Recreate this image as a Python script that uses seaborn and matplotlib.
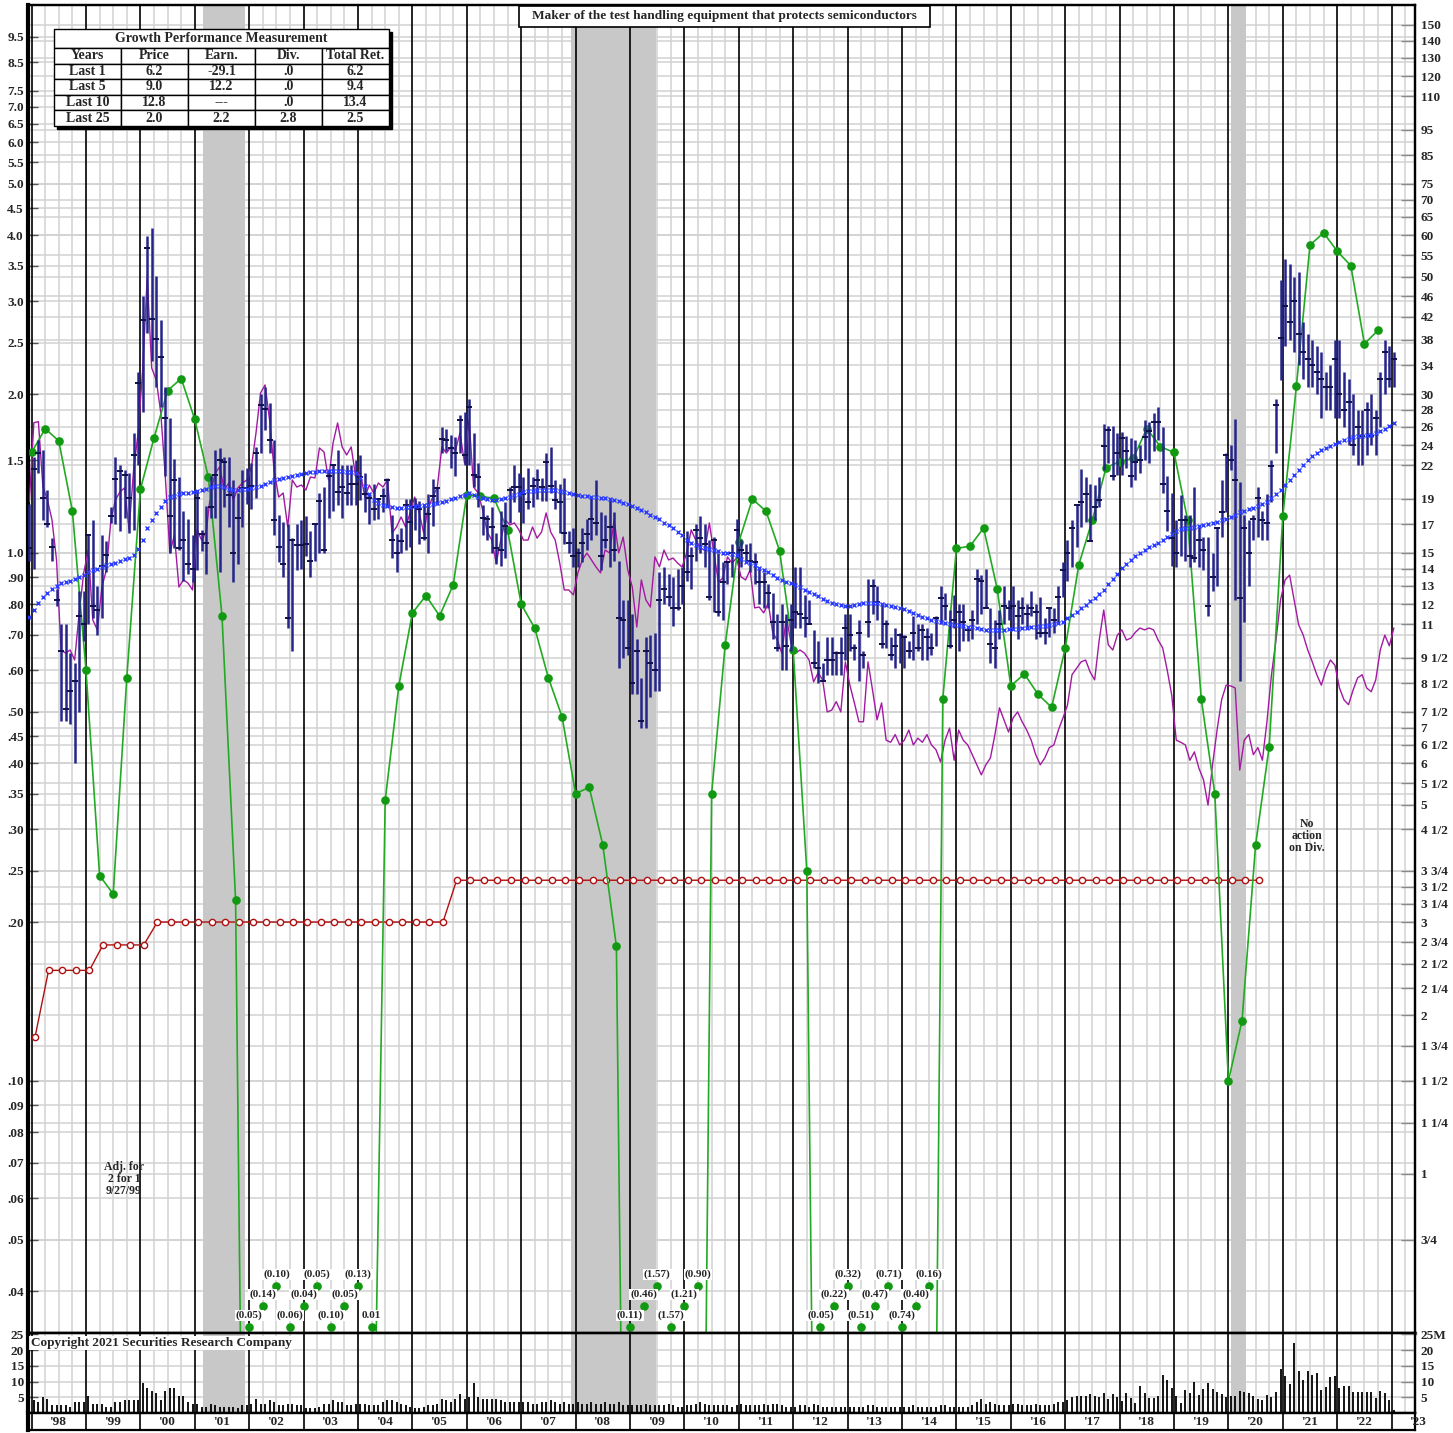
import matplotlib

matplotlib.use("Agg")
import matplotlib.pyplot as plt
import matplotlib.transforms as mtransforms
import numpy as np
import pandas as pd
import seaborn as sns
from matplotlib.patches import Rectangle
from matplotlib.ticker import NullLocator

# Monthly price bars in $ (right-hand scale), Dec 1997 .. Jan 2023
PRICE_HIGH = [
    18.6,
    22.8, 24.6, 23.5, 19.7, 16.0, 12.8, 11.0, 11.0, 9.7, 9.3, 12.7, 12.7,
    16.3, 17.3, 13.0, 16.2, 15.8, 18.3, 22.8, 22.0, 21.5, 21.3, 25.3, 33.0,
    46.1, 59.7, 61.8, 50.3, 41.4, 31.0, 27.0, 22.6, 20.9, 18.0, 17.4, 16.2,
    19.7, 16.6, 18.4, 21.0, 23.5, 23.7, 22.8, 22.8, 20.6, 19.5, 21.5, 21.7,
    22.2, 23.8, 30.0, 31.0, 28.9, 24.6, 17.7, 17.2, 17.0, 16.0, 17.0, 17.3,
    17.6, 16.5, 17.0, 19.5, 20.0, 21.5, 22.0, 23.5, 22.0, 22.0, 22.0, 22.5,
    23.0, 21.3, 19.5, 20.3, 19.1, 19.9, 20.8, 17.7, 16.3, 16.7, 19.0, 19.0,
    19.1, 18.8, 18.6, 19.4, 20.7, 20.0, 26.0, 25.8, 25.1, 24.9, 27.4, 27.7,
    29.4, 25.3, 22.2, 18.5, 17.7, 18.3, 16.4, 18.0, 18.7, 20.0, 22.0, 21.3,
    20.9, 21.7, 20.9, 21.6, 20.8, 23.2, 23.8, 20.6, 20.3, 20.8, 16.5, 16.7,
    15.3, 16.7, 17.4, 19.1, 20.6, 17.9, 17.7, 19.0, 17.9, 14.5, 12.2, 12.2,
    11.5, 10.3, 8.7, 10.4, 10.5, 10.6, 13.8, 14.1, 13.7, 13.5, 14.0, 14.1,
    16.5, 15.4, 17.0, 17.6, 17.0, 15.9, 16.1, 15.0, 14.4, 14.5, 15.6, 17.4,
    15.9, 15.6, 15.7, 15.0, 14.0, 13.8, 13.1, 12.6, 11.5, 12.0, 11.5, 12.0,
    14.1, 14.1, 12.5, 12.2, 10.7, 10.2, 9.3, 10.4, 10.4, 9.8, 10.4, 11.5,
    11.5, 10.1, 11.2, 9.8, 13.4, 13.4, 13.0, 12.0, 11.2, 10.4, 10.8, 10.6,
    10.5, 10.2, 11.4, 11.0, 11.0, 10.8, 10.6, 11.4, 13.0, 12.6, 11.7, 12.5,
    12.0, 12.0, 10.8, 11.7, 14.0, 13.6, 14.0, 11.8, 11.2, 11.7, 13.0, 12.2,
    13.0, 12.2, 12.4, 12.0, 12.7, 12.0, 12.4, 11.3, 11.8, 11.8, 13.0, 14.4,
    15.9, 17.3, 18.6, 21.6, 20.9, 20.3, 20.2, 20.9, 26.3, 26.1, 26.1, 25.3,
    25.4, 25.0, 24.8, 24.5, 24.0, 26.8, 26.5, 27.6, 28.4, 26.0, 21.0, 19.5,
    17.3, 19.3, 17.7, 17.7, 20.0, 16.8, 16.1, 16.1, 15.0, 16.8, 20.6, 23.2,
    24.0, 26.9, 20.4, 17.7, 17.3, 17.7, 20.0, 18.0, 19.4, 22.5, 29.4, 49.4,
    54.0, 53.0, 50.0, 51.0, 41.0, 39.0, 38.0, 37.0, 36.0, 33.0, 34.0, 38.0,
    38.0, 33.0, 32.0, 30.0, 28.0, 28.0, 29.0, 30.0, 28.0, 33.0, 38.0, 37.0,
    36.0,
]
PRICE_LOW = [
    14.5,
    14.0, 21.3, 17.3, 16.8, 14.5, 11.9, 7.2, 7.2, 7.1, 6.0, 7.5, 10.2,
    11.0, 11.3, 10.5, 11.3, 13.8, 17.1, 17.0, 16.5, 17.5, 16.4, 16.6, 22.0,
    27.7, 39.1, 34.6, 31.0, 28.4, 21.0, 15.0, 15.3, 15.2, 13.3, 13.7, 13.2,
    13.9, 15.1, 13.7, 17.5, 17.5, 13.8, 18.3, 16.8, 13.2, 14.3, 16.8, 18.6,
    18.2, 19.1, 23.2, 25.7, 23.2, 16.2, 14.4, 13.5, 10.8, 9.8, 13.9, 14.0,
    14.8, 13.5, 14.5, 15.0, 15.0, 17.5, 18.0, 18.5, 17.5, 18.5, 18.5, 18.5,
    18.9, 17.9, 17.0, 17.3, 17.4, 17.9, 18.4, 14.7, 13.8, 15.0, 15.2, 15.4,
    16.6, 15.6, 15.9, 15.0, 16.9, 18.5, 23.2, 23.4, 21.7, 21.0, 23.2, 22.0,
    22.0, 20.0, 18.3, 16.2, 15.9, 15.0, 14.3, 14.2, 14.7, 17.1, 18.7, 17.9,
    17.1, 18.2, 18.3, 19.0, 18.8, 18.8, 19.5, 18.2, 16.4, 15.6, 15.0, 14.1,
    14.1, 14.4, 15.2, 15.9, 16.2, 13.9, 15.3, 14.1, 14.5, 9.1, 9.5, 9.6,
    8.1, 8.1, 7.0, 7.0, 8.0, 8.2, 8.2, 12.0, 11.9, 10.9, 11.7, 12.0,
    13.3, 12.8, 14.5, 15.0, 14.1, 12.2, 11.6, 11.4, 11.2, 13.1, 13.5, 14.7,
    14.1, 14.4, 13.8, 13.1, 12.0, 11.8, 11.8, 10.3, 9.8, 9.0, 9.0, 9.8,
    10.8, 10.8, 10.4, 11.0, 9.1, 8.5, 8.6, 8.8, 8.8, 8.8, 8.8, 9.4,
    9.8, 9.4, 8.6, 9.1, 10.4, 11.5, 11.2, 9.9, 9.9, 9.4, 9.1, 9.3,
    9.1, 9.5, 9.4, 9.8, 9.4, 9.4, 9.6, 10.0, 11.0, 11.2, 9.9, 10.8,
    9.8, 10.2, 10.2, 10.3, 11.0, 11.5, 11.8, 9.3, 9.1, 10.3, 11.0, 11.2,
    10.8, 10.3, 11.0, 10.8, 11.4, 10.3, 10.4, 10.1, 10.4, 10.6, 11.0, 12.4,
    13.3, 14.1, 15.4, 16.8, 17.2, 15.8, 17.3, 18.3, 21.5, 22.2, 20.6, 21.1,
    21.1, 21.7, 20.0, 20.6, 21.3, 22.5, 22.2, 23.4, 24.5, 19.5, 16.5, 14.2,
    14.1, 14.8, 14.5, 14.1, 14.4, 14.1, 13.9, 11.4, 12.7, 13.0, 16.1, 17.9,
    21.5, 12.2, 8.6, 11.1, 13.0, 15.9, 16.1, 15.9, 15.9, 18.7, 23.2, 31.9,
    37.0, 38.0, 36.0, 34.0, 32.0, 31.0, 31.0, 30.0, 27.0, 28.0, 28.0, 27.0,
    27.0, 26.0, 24.0, 23.0, 22.0, 22.0, 23.0, 24.0, 23.0, 26.0, 30.0, 31.0,
    31.0,
]
PRICE_CLOSE = [
    15.3,
    21.6, 23.2, 19.1, 17.0, 15.4, 12.2, 9.8, 7.6, 8.2, 8.6, 11.4, 11.0,
    16.2, 11.9, 11.7, 14.2, 14.9, 17.6, 20.7, 21.4, 21.1, 19.1, 23.0, 31.5,
    41.4, 56.6, 41.7, 38.2, 35.3, 27.0, 17.6, 20.6, 15.3, 15.9, 14.3, 14.0,
    19.1, 16.3, 15.7, 18.3, 21.1, 22.5, 22.3, 19.3, 15.0, 17.5, 19.9, 19.9,
    20.1, 23.2, 28.6, 28.1, 24.6, 17.3, 15.4, 14.3, 11.3, 15.9, 15.5, 15.5,
    15.6, 14.5, 17.0, 18.8, 15.2, 21.0, 22.0, 19.6, 20.0, 19.5, 20.3, 20.3,
    20.9, 19.4, 19.1, 18.2, 19.0, 19.2, 20.6, 15.9, 15.0, 15.8, 18.5, 17.2,
    18.3, 18.2, 16.0, 17.8, 19.2, 19.9, 24.7, 24.6, 23.7, 23.2, 26.8, 23.0,
    28.3, 21.1, 20.9, 17.5, 17.4, 16.8, 15.3, 15.2, 16.9, 19.7, 20.0, 20.0,
    19.4, 18.7, 20.1, 20.6, 20.0, 22.3, 20.1, 18.9, 18.7, 16.4, 15.7, 14.8,
    15.0, 15.7, 16.3, 17.4, 17.1, 14.8, 15.9, 16.8, 15.2, 11.3, 11.2, 9.9,
    8.5, 9.8, 7.2, 9.8, 9.3, 9.0, 12.2, 12.8, 12.4, 11.8, 11.8, 13.0,
    13.8, 14.8, 16.6, 16.0, 15.6, 12.4, 15.9, 11.6, 13.2, 14.4, 15.0, 16.6,
    15.2, 15.0, 14.5, 14.4, 13.2, 13.2, 12.6, 11.1, 9.9, 11.1, 10.0, 11.2,
    11.6, 11.5, 11.3, 11.0, 9.3, 9.1, 8.6, 9.4, 9.4, 9.7, 9.7, 10.8,
    10.5, 9.9, 10.6, 9.6, 11.1, 13.0, 12.1, 10.1, 11.0, 9.6, 10.0, 10.5,
    10.4, 9.8, 10.6, 9.9, 10.7, 10.4, 9.9, 11.3, 12.3, 11.9, 10.0, 11.2,
    11.6, 11.1, 10.7, 11.2, 13.4, 13.3, 11.8, 10.1, 9.9, 11.0, 11.9, 11.8,
    11.9, 11.4, 11.8, 11.5, 11.8, 11.6, 10.6, 10.6, 11.8, 11.2, 12.4, 13.9,
    15.0, 16.7, 18.5, 18.7, 19.4, 15.8, 18.3, 18.9, 23.9, 25.7, 21.0, 23.2,
    24.8, 23.4, 21.0, 22.3, 22.5, 24.9, 25.5, 26.5, 26.5, 20.3, 18.0, 16.0,
    15.0, 17.3, 17.3, 14.8, 14.7, 15.9, 15.2, 11.9, 13.5, 16.7, 17.9, 23.0,
    22.5, 20.6, 12.3, 16.7, 15.0, 17.4, 19.1, 17.3, 17.1, 21.9, 28.6, 38.3,
    44.0, 41.0, 45.0, 39.0, 36.0, 35.0, 34.0, 33.0, 32.0, 31.0, 31.0, 35.0,
    30.0, 28.0, 29.0, 24.0, 26.0, 25.0, 28.0, 25.0, 27.0, 32.0, 36.0, 32.0,
    35.0,
]
# moving average of price, $ (blue x marks)
MOVING_AVG = [
    11.33,
    11.70, 12.08, 12.36, 12.61, 12.80, 12.99, 13.15, 13.24, 13.30, 13.38, 13.50, 13.64,
    13.78, 13.90, 13.97, 14.09, 14.24, 14.30, 14.37, 14.48, 14.59, 14.65, 14.87, 15.24,
    15.87, 16.71, 17.33, 17.88, 18.36, 18.84, 19.13, 19.26, 19.40, 19.49, 19.52, 19.55,
    19.66, 19.74, 19.86, 19.98, 20.09, 20.11, 20.02, 19.86, 19.74, 19.74, 19.82, 19.86,
    19.89, 19.98, 20.09, 20.26, 20.47, 20.62, 20.71, 20.83, 20.92, 21.01, 21.07, 21.14,
    21.27, 21.32, 21.36, 21.41, 21.45, 21.47, 21.48, 21.45, 21.41, 21.36, 21.32, 21.27,
    20.81, 20.09, 19.40, 18.90, 18.65, 18.49, 18.41, 18.33, 18.29, 18.29, 18.33, 18.37,
    18.41, 18.45, 18.49, 18.53, 18.57, 18.65, 18.73, 18.81, 18.94, 19.07, 19.19, 19.32,
    19.45, 19.32, 19.15, 19.07, 18.98, 18.90, 18.90, 18.98, 19.07, 19.15, 19.28, 19.40,
    19.53, 19.62, 19.66, 19.71, 19.75, 19.75, 19.75, 19.71, 19.66, 19.58, 19.49, 19.40,
    19.32, 19.24, 19.19, 19.15, 19.11, 19.07, 19.03, 18.98, 18.90, 18.81, 18.69, 18.57,
    18.41, 18.25, 18.09, 17.93, 17.74, 17.55, 17.36, 17.13, 16.91, 16.69, 16.47, 16.23,
    15.87, 15.67, 15.53, 15.40, 15.30, 15.23, 15.17, 15.10, 15.03, 15.00, 14.93, 14.87,
    14.61, 14.45, 14.35, 14.23, 14.07, 13.93, 13.78, 13.60, 13.45, 13.33, 13.23, 13.16,
    13.05, 12.93, 12.79, 12.65, 12.54, 12.41, 12.27, 12.17, 12.06, 11.99, 11.93, 11.88,
    11.88, 11.93, 11.99, 12.04, 12.06, 12.08, 12.06, 12.01, 11.93, 11.88, 11.83, 11.79,
    11.73, 11.65, 11.55, 11.47, 11.37, 11.30, 11.22, 11.15, 11.08, 11.04, 11.01, 10.96,
    10.94, 10.91, 10.88, 10.84, 10.80, 10.77, 10.73, 10.72, 10.72, 10.72, 10.74, 10.75,
    10.77, 10.79, 10.80, 10.82, 10.84, 10.86, 10.89, 10.91, 10.96, 11.01, 11.06, 11.12,
    11.30, 11.45, 11.60, 11.78, 11.96, 12.15, 12.35, 12.54, 12.79, 13.10, 13.39, 13.69,
    14.05, 14.30, 14.55, 14.81, 15.00, 15.20, 15.37, 15.53, 15.70, 15.87, 16.09, 16.30,
    16.54, 16.63, 16.69, 16.76, 16.82, 16.88, 16.95, 17.03, 17.10, 17.20, 17.30, 17.42,
    17.55, 17.70, 17.93, 18.05, 18.17, 18.29, 18.41, 18.57, 18.77, 19.03, 19.36, 19.75,
    20.18, 20.63, 21.08, 21.54, 22.02, 22.50, 22.90, 23.20, 23.46, 23.72, 23.93, 24.13,
    24.34, 24.55, 24.71, 24.82, 24.93, 24.98, 25.04, 25.10, 25.26, 25.49, 25.79, 26.08,
    26.41,
]
# relative strength line (left-hand scale)
REL_STRENGTH = [
    1.250,
    1.765, 1.773, 1.335, 1.260, 1.155, 0.970, 0.655, 0.646, 0.655, 0.627, 0.770, 0.917,
    1.013, 0.747, 0.715, 0.862, 0.929, 1.155, 1.260, 1.306, 1.328, 1.106, 1.436, 1.688,
    2.221, 3.318, 2.240, 2.127, 1.842, 1.393, 1.000, 1.082, 0.862, 0.889, 0.877, 0.851,
    1.106, 1.058, 1.096, 1.299, 1.417, 1.455, 1.316, 1.357, 1.260, 1.328, 1.357, 1.375,
    1.455, 1.688, 2.009, 2.081, 1.786, 1.436, 1.276, 1.299, 1.120, 1.375, 1.333, 1.345,
    1.316, 1.393, 1.387, 1.581, 1.553, 1.375, 1.616, 1.763, 1.588, 1.533, 1.588, 1.393,
    1.423, 1.276, 1.345, 1.299, 1.357, 1.333, 1.375, 1.091, 1.120, 1.170, 1.120, 1.191,
    1.276, 1.191, 1.091, 1.221, 1.276, 1.333, 1.588, 1.546, 1.588, 1.567, 1.688, 1.480,
    1.786, 1.333, 1.299, 1.206, 1.096, 1.058, 0.957, 1.058, 1.155, 1.130, 1.140, 1.106,
    1.058, 1.058, 1.120, 1.067, 1.096, 1.191, 1.096, 1.058, 0.957, 0.851, 0.851, 0.833,
    0.917, 0.970, 1.000, 0.970, 0.941, 0.917, 1.013, 1.000, 1.155, 1.000, 1.072, 0.929,
    0.862, 0.724, 0.889, 0.815, 0.790, 0.983, 0.941, 1.013, 0.970, 0.978, 0.957, 0.941,
    1.000, 1.106, 1.058, 1.022, 1.013, 1.140, 1.000, 0.881, 0.897, 0.983, 0.957, 0.978,
    0.901, 0.889, 0.929, 0.787, 0.790, 0.770, 0.804, 0.705, 0.684, 0.646, 0.757, 0.675,
    0.646, 0.655, 0.646, 0.627, 0.570, 0.593, 0.575, 0.500, 0.504, 0.523, 0.500, 0.622,
    0.562, 0.520, 0.479, 0.479, 0.622, 0.550, 0.483, 0.520, 0.442, 0.438, 0.453, 0.433,
    0.442, 0.462, 0.433, 0.446, 0.438, 0.453, 0.433, 0.424, 0.402, 0.442, 0.466, 0.405,
    0.462, 0.442, 0.433, 0.415, 0.397, 0.380, 0.397, 0.409, 0.453, 0.509, 0.483, 0.458,
    0.487, 0.500, 0.479, 0.462, 0.442, 0.415, 0.397, 0.409, 0.428, 0.433, 0.462, 0.487,
    0.515, 0.588, 0.605, 0.622, 0.627, 0.595, 0.575, 0.684, 0.780, 0.670, 0.655, 0.699,
    0.715, 0.684, 0.690, 0.708, 0.721, 0.715, 0.721, 0.715, 0.684, 0.661, 0.600, 0.538,
    0.442, 0.438, 0.433, 0.405, 0.420, 0.391, 0.372, 0.333, 0.397, 0.462, 0.527, 0.562,
    0.560, 0.555, 0.388, 0.442, 0.453, 0.415, 0.428, 0.405, 0.479, 0.588, 0.684, 0.815,
    0.889, 0.908, 0.815, 0.731, 0.699, 0.655, 0.622, 0.588, 0.562, 0.600, 0.627, 0.613,
    0.555, 0.527, 0.516, 0.550, 0.580, 0.588, 0.555, 0.546, 0.575, 0.655, 0.699, 0.667,
    0.721,
]
# monthly volume, millions of shares
VOLUME = [
    5.0,
    4.2, 3.5, 5.0, 4.5, 2.5, 2.5, 2.5, 2.5, 2.0, 3.5, 3.5, 3.5,
    5.5, 3.0, 3.0, 3.0, 2.0, 2.0, 3.5, 3.5, 4.0, 4.0, 4.0, 4.0,
    9.5, 8.0, 7.0, 6.5, 4.0, 7.0, 8.0, 8.0, 5.5, 5.5, 3.5, 3.0,
    3.0, 2.0, 2.0, 3.0, 2.5, 2.0, 2.0, 2.0, 2.0, 1.5, 2.5, 2.5,
    3.0, 4.5, 3.0, 3.0, 4.0, 3.5, 2.5, 2.5, 3.0, 3.0, 2.5, 2.5,
    1.5, 1.5, 1.5, 2.0, 3.0, 3.0, 4.0, 3.5, 3.5, 2.5, 2.5, 3.0,
    3.0, 3.0, 2.5, 2.5, 2.5, 3.5, 4.0, 4.0, 3.5, 3.0, 2.5, 2.0,
    1.5, 1.5, 2.0, 2.5, 2.5, 3.0, 4.5, 4.0, 3.5, 4.5, 6.0, 4.5,
    5.0, 9.5, 5.0, 4.5, 4.5, 4.5, 4.5, 4.0, 3.5, 3.5, 3.5, 3.5,
    3.5, 3.5, 3.0, 3.0, 3.5, 3.5, 4.0, 3.5, 3.0, 3.5, 3.0, 3.0,
    3.5, 3.0, 3.0, 3.5, 3.0, 3.0, 3.5, 3.0, 3.0, 3.5, 2.5, 2.5,
    2.5, 2.5, 2.5, 3.0, 2.5, 2.5, 2.5, 2.5, 3.0, 2.5, 2.0, 2.0,
    2.5, 2.5, 3.0, 3.5, 3.0, 2.5, 2.5, 2.5, 2.5, 2.5, 2.0, 2.5,
    3.0, 2.5, 2.5, 2.5, 2.5, 3.0, 2.5, 3.0, 3.0, 2.5, 2.0, 2.0,
    2.0, 2.5, 2.5, 2.0, 3.0, 2.5, 2.0, 2.0, 2.0, 2.0, 2.0, 2.0,
    2.0, 2.0, 2.0, 2.0, 2.5, 2.5, 2.0, 2.0, 2.0, 2.0, 2.0, 2.0,
    2.0, 2.0, 2.5, 2.0, 2.0, 2.0, 2.0, 2.0, 2.5, 2.5, 2.0, 2.0,
    2.0, 2.0, 2.0, 2.5, 3.5, 4.5, 3.0, 3.5, 3.0, 2.5, 2.5, 2.5,
    3.0, 3.0, 2.5, 2.5, 2.5, 3.0, 2.5, 2.5, 2.5, 3.0, 3.5, 3.5,
    4.0, 5.0, 5.5, 5.5, 5.5, 6.0, 5.5, 5.0, 6.5, 4.3, 6.0, 5.2,
    3.8, 6.5, 4.9, 3.3, 8.7, 6.5, 4.7, 4.7, 5.4, 12.0, 10.5, 7.8,
    5.4, 3.3, 7.3, 6.5, 9.8, 5.7, 7.6, 9.6, 7.6, 6.7, 6.0, 5.2,
    5.4, 5.4, 7.1, 6.7, 6.5, 5.4, 4.6, 4.1, 5.8, 5.2, 6.7, 14.1,
    11.6, 9.2, 22.3, 13.3, 10.5, 13.3, 12.0, 12.8, 7.3, 8.2, 11.3, 11.6,
    7.8, 8.7, 8.5, 6.8, 6.8, 6.8, 6.8, 6.8, 4.9, 7.1, 6.3, 4.0,
    0.9,
]
# trailing 12-month earnings per share, quarter ends from Q4 1997 (left scale)
EPS = [
    1.55, 1.72, 1.63, 1.20, 0.60, 0.245, 0.226, 0.58, 1.32, 1.65, 2.03, 2.14, 1.79, 1.39, 0.76, 0.22,
    -0.05, -0.14, -0.10, -0.06, -0.04, -0.05, -0.10, -0.05, -0.13, 0.01,
    0.34, 0.56, 0.77, 0.83, 0.76, 0.87, 1.29, 1.28, 1.27, 1.105, 0.80, 0.72, 0.58, 0.49, 0.35, 0.36, 0.28, 0.18,
    -0.11, -0.46, -1.57, -1.57, -1.21, -0.90,
    0.35, 0.67, 1.05, 1.265, 1.20, 1.01, 0.655, 0.25,
    -0.05, -0.22, -0.32, -0.51, -0.47, -0.71, -0.74, -0.40, -0.16,
    0.53, 1.02, 1.03, 1.115, 0.855, 0.56, 0.59, 0.54, 0.51, 0.66, 0.95, 1.155, 1.45, 1.49, 1.51,
    1.72, 1.59, 1.55, 1.155, 0.53, 0.35, 0.10, 0.13, 0.28, 0.43, 1.175, 2.07, 3.83, 4.04, 3.73,
    3.50, 2.49, 2.64,
]
# annual dividend rate, quarterly from Jan 1998 (left scale)
DIVIDEND = [
    0.121, 0.162, 0.162, 0.162, 0.162, 0.181, 0.181, 0.181, 0.181,
    0.20, 0.20, 0.20, 0.20, 0.20, 0.20, 0.20, 0.20, 0.20, 0.20, 0.20,
    0.20, 0.20, 0.20, 0.20, 0.20, 0.20, 0.20, 0.20, 0.20, 0.20, 0.20,
    0.24, 0.24, 0.24, 0.24, 0.24, 0.24, 0.24, 0.24, 0.24, 0.24, 0.24, 0.24,
    0.24, 0.24, 0.24, 0.24, 0.24, 0.24, 0.24, 0.24, 0.24, 0.24, 0.24, 0.24,
    0.24, 0.24, 0.24, 0.24, 0.24, 0.24, 0.24, 0.24, 0.24, 0.24, 0.24, 0.24,
    0.24, 0.24, 0.24, 0.24, 0.24, 0.24, 0.24, 0.24, 0.24, 0.24, 0.24, 0.24,
    0.24, 0.24, 0.24, 0.24, 0.24, 0.24, 0.24, 0.24, 0.24, 0.24, 0.24, 0.24,
]
RECESSIONS = [(2001.15, 2001.92), (2007.92, 2009.48), (2020.04, 2020.33)]

GROWTH_HEADER = ["Years", "Price", "Earn.", "Div.", "Total Ret."]
GROWTH_ROWS = [
    ["Last 1", "6.2", "-29.1", ".0", "6.2"],
    ["Last 5", "9.0", "12.2", ".0", "9.4"],
    ["Last 10", "12.8", "---", ".0", "13.4"],
    ["Last 25", "2.0", "2.2", "2.8", "2.5"],
]

LEFT_TICKS = [9.5, 8.5, 7.5, 7.0, 6.5, 6.0, 5.5, 5.0, 4.5, 4.0, 3.5, 3.0, 2.5, 2.0, 1.5, 1.0,
              0.9, 0.8, 0.7, 0.6, 0.5, 0.45, 0.4, 0.35, 0.3, 0.25, 0.2, 0.1, 0.09, 0.08, 0.07,
              0.06, 0.05, 0.04]
LEFT_LABELS = ["9.5", "8.5", "7.5", "7.0", "6.5", "6.0", "5.5", "5.0", "4.5", "4.0", "3.5", "3.0",
               "2.5", "2.0", "1.5", "1.0", ".90", ".80", ".70", ".60", ".50", ".45", ".40", ".35",
               ".30", ".25", ".20", ".10", ".09", ".08", ".07", ".06", ".05", ".04"]
RIGHT_TICKS = [150, 140, 130, 120, 110, 95, 85, 75, 70, 65, 60, 55, 50, 46, 42, 38, 34, 30, 28,
               26, 24, 22, 19, 17, 15, 14, 13, 12, 11, 9.5, 8.5, 7.5, 7, 6.5, 6, 5.5, 5, 4.5,
               3.75, 3.5, 3.25, 3, 2.75, 2.5, 2.25, 2, 1.75, 1.5, 1.25, 1, 0.75]
RIGHT_LABELS = ["150", "140", "130", "120", "110", "95", "85", "75", "70", "65", "60", "55", "50",
                "46", "42", "38", "34", "30", "28", "26", "24", "22", "19", "17", "15", "14", "13",
                "12", "11", "9 1/2", "8 1/2", "7 1/2", "7", "6 1/2", "6", "5 1/2", "5", "4 1/2",
                "3 3/4", "3 1/2", "3 1/4", "3", "2 3/4", "2 1/2", "2 1/4", "2", "1 3/4", "1 1/2",
                "1 1/4", "1", "3/4"]

PRICE_RATIO = 15  # right scale = 15 x left scale
Y_MIN, Y_MAX = 0.03332, 10.91
X_MIN, X_MAX = 1997.934, 2023.43

NAVY = "#24248a"
GREEN = "#119911"
GRID = "#d2d2d2"
SHADE = "#c8c8c8"
AW, AH = 1387, 1328  # main axes size in pixels


def main() -> None:
    sns.set_theme(style="white")
    plt.rcParams["font.family"] = ["Liberation Serif", "DejaVu Serif"]
    plt.rcParams["font.weight"] = "bold"

    months = pd.period_range("1997-12", periods=len(PRICE_CLOSE), freq="M")
    mx = np.asarray(months.year + (months.month - 0.5) / 12)
    quarters = pd.period_range("1997Q4", periods=len(EPS), freq="Q")
    qx = np.asarray(quarters.year + quarters.quarter / 4)
    div_months = pd.period_range("1998-01", periods=3 * len(DIVIDEND), freq="M")[::3]
    dx = np.asarray(div_months.year + (div_months.month - 0.25) / 12)
    eps = np.array(EPS)

    W, H = 1453, 1433
    fig = plt.figure(figsize=(W / 100, H / 100), dpi=100)
    ax = fig.add_axes([28 / W, 100 / H, AW / W, AH / H])
    axv = fig.add_axes([28 / W, 20 / H, AW / W, 80 / H])
    axl = fig.add_axes([28 / W, 3 / H, AW / W, 17 / H])

    ax.set_yscale("log")
    for a in (ax, axv, axl):
        a.set_xlim(X_MIN, X_MAX)
        a.set_facecolor("white")

    # grid: quarters gray, years black
    for yr in range(1998, 2024):
        for q in (0.25, 0.5, 0.75):
            ax.axvline(yr + q, color=GRID, lw=1.1, zorder=0.5)
            axv.axvline(yr + q, color=GRID, lw=1.1, zorder=0.5)
        for a in (ax, axv, axl):
            a.axvline(yr, color="black", lw=1.2, zorder=1.5)
    for v in LEFT_TICKS:
        ax.axhline(v, color=GRID, lw=1.1, zorder=0.5)
    for v in RIGHT_TICKS:
        ax.axhline(v / PRICE_RATIO, color=GRID, lw=1.1, zorder=0.5)
    for v in (5, 10, 15, 20):
        axv.axhline(v, color=GRID, lw=1.1, zorder=0.5)

    for a0, a1 in RECESSIONS:
        ax.axvspan(a0, a1, color=SHADE, lw=0, zorder=1)
        axv.axvspan(a0, a1, color=SHADE, lw=0, zorder=1)

    # relative strength
    sns.lineplot(x=mx, y=REL_STRENGTH, ax=ax, color="#a21aa2", lw=1.0, zorder=3)

    # dividends
    ax.plot(dx, DIVIDEND, color="#b01010", lw=1.0, marker="o", ms=4.5, mfc="white",
            mec="#b01010", mew=1.0, zorder=4)

    # earnings: line runs off the bottom for deficits
    sns.lineplot(x=qx, y=np.clip(eps, 1e-3, None), ax=ax, color="#22aa22", lw=1.2, zorder=4)
    on = eps >= Y_MIN
    ax.plot(qx[on], eps[on], ls="none", marker="o", ms=5.2, color=GREEN, zorder=5)

    # off-scale earnings shown as labelled dots along the bottom
    trans = mtransforms.blended_transform_factory(ax.transData, ax.transAxes)
    rows_y = [0.0045, 0.0203, 0.0354]
    prev, slot = -5, 0
    for i, v in enumerate(eps):
        if v >= Y_MIN:
            continue
        slot = slot + 1 if i == prev + 1 else 0
        prev = i
        yy = rows_y[slot % 3]
        ax.plot([qx[i]], [yy], ls="none", marker="o", ms=5.2, color=GREEN, transform=trans,
                zorder=6, clip_on=False)
        lab = f"({abs(v):.2f})" if v < 0 else f"{v:.2f}"
        ax.text(qx[i], yy + 0.0087, lab, transform=trans, ha="center", va="center", fontsize=8,
                fontweight="bold", zorder=7,
                bbox=dict(boxstyle="square,pad=0.1", fc="white", ec="none"))

    ax.set_ylim(Y_MIN, Y_MAX)
    ax.set_yticks(LEFT_TICKS, labels=LEFT_LABELS)
    ax.yaxis.set_minor_locator(NullLocator())
    ax.tick_params(axis="y", which="major", left=True, right=False, direction="in", length=7,
                   width=1, color="#555555", pad=3, labelsize=9.5)
    ax.tick_params(axis="x", bottom=False, labelbottom=False)
    ax.set_xlabel("")
    ax.set_ylabel("")

    # price scale on the right
    ax2 = ax.twinx()
    ax2.set_yscale("log")
    ax2.vlines(mx, PRICE_LOW, PRICE_HIGH, color=NAVY, lw=1.8, zorder=3)
    ax2.plot(mx, PRICE_CLOSE, ls="none", marker="_", ms=5, mew=1.4, color="#10104a", zorder=4)
    ax2.plot(mx, MOVING_AVG, ls="none", marker="x", ms=3.5, mew=1.0, color="#2a3cff", zorder=4)
    ax2.set_ylim(Y_MIN * PRICE_RATIO, Y_MAX * PRICE_RATIO)
    ax2.set_xlim(X_MIN, X_MAX)
    ax2.set_yticks(RIGHT_TICKS, labels=RIGHT_LABELS)
    ax2.yaxis.set_minor_locator(NullLocator())
    ax2.tick_params(axis="y", which="major", right=True, left=False, direction="in", length=10,
                    width=1, color="#888888", pad=4, labelsize=9.5)

    # title box
    ax2.add_patch(Rectangle((491 / AW, 1306 / AH), 411 / AW, 21 / AH,
                            transform=ax2.transAxes, fc="white", ec="black", lw=1.2, zorder=19))
    ax2.text(696.5 / AW, 1316.5 / AH,
             "Maker of the test handling equipment that protects semiconductors",
             transform=ax2.transAxes, ha="center", va="center", fontsize=9.6, zorder=20)

    # growth table with drop shadow: title row drawn as its own box, body as a table
    bx, bw = 26 / AW, 335 / AW
    by, bh = 1207 / AH, 78 / AH          # header + 4 rows
    ty, th = 1285 / AH, 19 / AH          # title row
    ax2.add_patch(Rectangle((bx + 3 / AW, by - 3 / AH), bw, bh + th, transform=ax2.transAxes,
                            fc="black", ec="black", zorder=18))
    ax2.add_patch(Rectangle((bx, ty), bw, th, transform=ax2.transAxes, fc="white", ec="black",
                            lw=1.0, zorder=19))
    ax2.text(bx + bw / 2, ty + th / 2, "Growth Performance Measurement",
             transform=ax2.transAxes, ha="center", va="center", fontsize=10, zorder=21)
    tbl = ax2.table(cellText=[GROWTH_HEADER] + GROWTH_ROWS, cellLoc="center",
                    bbox=[bx, by, bw, bh])
    tbl.set_zorder(19)
    tbl.auto_set_font_size(False)
    tbl.set_fontsize(10)
    for cell in tbl.get_celld().values():
        cell.set_facecolor("white")
        cell.set_edgecolor("black")
        cell.set_linewidth(1.0)
        cell.get_text().set_fontweight("bold")

    ax.text(96 / AW, 154 / AH, "Adj. for\n2 for 1\n9/27/99", transform=ax.transAxes,
            ha="center", va="center", fontsize=8.5, linespacing=1.05, zorder=6)
    ax.text(1279 / AW, 497 / AH, "No\naction\non Div.", transform=ax.transAxes,
            ha="center", va="center", fontsize=8.5, linespacing=1.05, zorder=6)

    # volume pane
    axv.vlines(mx, 0, VOLUME, color="black", lw=1.3, zorder=3)
    axv.set_ylim(0, 25.4)
    axv.set_yticks([5, 10, 15, 20, 25], labels=["5", "10", "15", "20", "25"])
    axv.tick_params(axis="y", left=True, direction="in", length=7, width=1, color="#555555",
                    pad=3, labelsize=9.5)
    axv.tick_params(axis="x", bottom=False, labelbottom=False)
    axv2 = axv.twinx()
    axv2.set_ylim(0, 25.4)
    axv2.set_yticks([5, 10, 15, 20, 25], labels=["5", "10", "15", "20", "25M"])
    axv2.tick_params(axis="y", right=True, direction="in", length=10, width=1, color="#888888",
                     pad=4, labelsize=9.5)
    axv.text(0.002, 0.875, "Copyright 2021 Securities Research Company", transform=axv.transAxes,
             ha="left", va="center", fontsize=9.5, zorder=10,
             bbox=dict(boxstyle="square,pad=0.1", fc="white", ec="none"))

    # year labels strip
    axl.set_ylim(0, 1)
    axl.set_yticks([])
    axl.tick_params(axis="x", bottom=False, labelbottom=False)
    for yr in range(1998, 2024):
        axl.text(yr + 0.5, 0.45, f"'{yr % 100:02d}", ha="center", va="center", fontsize=9.5,
                 clip_on=False)

    for a in (ax, ax2, axv, axv2, axl):
        for s in a.spines.values():
            s.set_visible(True)
            s.set_color("black")
            s.set_linewidth(1.6)
    ax.spines["left"].set_linewidth(3)
    axv.spines["left"].set_linewidth(3)
    axl.spines["left"].set_linewidth(3)
    ax.spines["bottom"].set_color("#777777")
    ax.spines["bottom"].set_linewidth(2.5)

    fig.savefig("out.png", dpi=100)


if __name__ == "__main__":
    main()
